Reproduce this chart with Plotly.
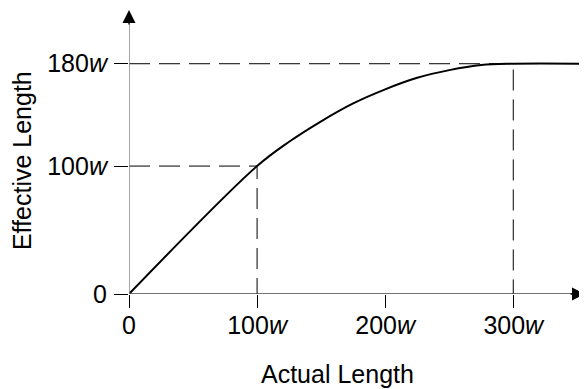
import plotly.graph_objects as go

# effective length vs actual length (in units of w)
actual = [0, 100, 125, 150, 175, 200, 225, 250, 275, 300, 356]
effective = [0, 100, 119, 135, 149, 160, 169, 175, 179, 180, 180]

x_ticks = [0, 100, 200, 300]
x_labels = ["0", "100<i>w</i>", "200<i>w</i>", "300<i>w</i>"]
y_ticks = [0, 100, 180]
y_labels = ["0", "100<i>w</i>", "180<i>w</i>"]

# guide points marked with dashed lines
knee_x, knee_y = 100, 100
cap_x, cap_y = 300, 180

x_max, y_max = 356, 222
font = "Liberation Sans, Arial, sans-serif"
dash = "21px,9px"

fig = go.Figure()

for gx, gy in [(knee_x, knee_y), (cap_x, cap_y)]:
    fig.add_trace(go.Scatter(x=[0, gx, gx], y=[gy, gy, 0], mode="lines",
                             line=dict(color="black", width=1, dash=dash),
                             hoverinfo="skip"))

fig.add_trace(go.Scatter(x=actual, y=effective, mode="lines",
                         line=dict(color="black", width=2, shape="spline"),
                         cliponaxis=False))

# axis lines
fig.add_shape(type="line", x0=0, y0=0, x1=x_max - 4, y1=0,
              line=dict(color="#444", width=1.3))
fig.add_shape(type="line", x0=0, y0=0, x1=0, y1=y_max - 4,
              line=dict(color="#888", width=1.5))
# arrow heads
fig.add_annotation(x=x_max, y=0, ax=-16, ay=0, xref="x", yref="y",
                   showarrow=True, arrowhead=2, arrowsize=2,
                   arrowwidth=1.3, arrowcolor="black", text="")
fig.add_annotation(x=0, y=y_max, ax=0, ay=16, xref="x", yref="y",
                   showarrow=True, arrowhead=2, arrowsize=2,
                   arrowwidth=1.3, arrowcolor="black", text="")

# axis titles
fig.add_annotation(text="Actual Length", xref="paper", yref="paper",
                   x=0.458, y=0, yanchor="middle", yshift=-80,
                   showarrow=False, font=dict(size=25))
fig.add_annotation(text="Effective Length", xref="paper", yref="paper",
                   x=0, y=0.468, xanchor="center", xshift=-107,
                   textangle=-90, showarrow=False, font=dict(size=25))

# page body has an 8px margin, so the figure is sized to fit inside it
fig.update_layout(
    width=579, height=381,
    margin=dict(l=121, r=2, t=2, b=95),
    plot_bgcolor="white", paper_bgcolor="white",
    showlegend=False,
    font=dict(family=font, size=25, color="black"),
)
fig.update_xaxes(range=[0, x_max], showgrid=False, zeroline=False,
                 showline=False, tickmode="array", tickvals=x_ticks,
                 ticktext=x_labels, ticks="outside", ticklen=13,
                 tickcolor="black", tickwidth=1, automargin=False,
                 ticklabelstandoff=-4)
fig.update_yaxes(range=[0, y_max], showgrid=False, zeroline=False,
                 showline=False, tickmode="array", tickvals=y_ticks,
                 ticktext=y_labels, ticks="outside", ticklen=14,
                 tickcolor="black", tickwidth=1, automargin=False,
                 ticklabelstandoff=2)

fig.write_html("out.html")
